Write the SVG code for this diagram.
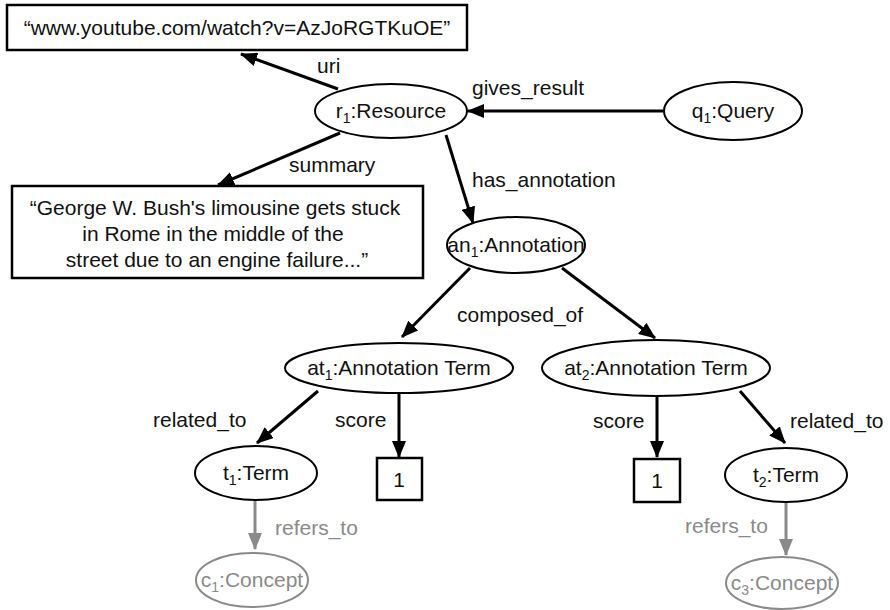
<svg xmlns="http://www.w3.org/2000/svg" width="890" height="610" viewBox="0 0 890 610">
  <style>
    text { font-family: "Liberation Sans", Arial, sans-serif; font-size: 21px; fill: #111; }
    .mid { text-anchor: middle; }
    .sub { font-size: 14px; }
    .node { fill: #fff; stroke: #000; stroke-width: 2; }
    .lit { fill: #fff; stroke: #000; stroke-width: 2.5; }
    .gnode { fill: #fff; stroke: #8a8a8a; stroke-width: 2; }
    .edge { fill: none; stroke: #000; stroke-width: 3; marker-end: url(#arr); }
    .gedge { fill: none; stroke: #8a8a8a; stroke-width: 3; marker-end: url(#garr); }
    .glabel { fill: #8a8a8a; }
  </style>
  <defs>
    <marker id="arr" markerUnits="userSpaceOnUse" markerWidth="17" markerHeight="14" refX="16" refY="7" orient="auto">
      <path d="M0,0 L17,7 L0,14 z" fill="#000"/>
    </marker>
    <marker id="garr" markerUnits="userSpaceOnUse" markerWidth="17" markerHeight="14" refX="16" refY="7" orient="auto">
      <path d="M0,0 L17,7 L0,14 z" fill="#8a8a8a"/>
    </marker>
  </defs>
  <rect width="890" height="610" fill="#fff"/>

  <!-- connectors -->
  <g id="connectors">
    <line class="edge" x1="338" y1="89" x2="241" y2="54"/>
    <line class="edge" x1="663" y1="111" x2="468" y2="111"/>
    <line class="edge" x1="340" y1="133" x2="218" y2="185"/>
    <line class="edge" x1="446" y1="135" x2="473" y2="223"/>
    <line class="edge" x1="470" y1="268" x2="402" y2="337"/>
    <line class="edge" x1="562" y1="268" x2="655" y2="338"/>
    <line class="edge" x1="318" y1="391" x2="257" y2="443"/>
    <line class="edge" x1="399" y1="393" x2="399" y2="457"/>
    <line class="edge" x1="657" y1="396" x2="657" y2="457"/>
    <line class="edge" x1="740" y1="391" x2="785" y2="443"/>
    <line class="gedge" x1="255" y1="500" x2="255" y2="549"/>
    <line class="gedge" x1="786" y1="502" x2="786" y2="555"/>

    <text x="317" y="73">uri</text>
    <text x="472" y="95">gives_result</text>
    <text x="289" y="172">summary</text>
    <text x="472" y="187">has_annotation</text>
    <text x="457" y="322">composed_of</text>
    <text x="153" y="427">related_to</text>
    <text x="335" y="427">score</text>
    <text x="593" y="428">score</text>
    <text x="790" y="428">related_to</text>
    <text class="glabel" x="275" y="535">refers_to</text>
    <text class="glabel" x="685" y="533">refers_to</text>
  </g>

  <g id="uri-literal">
    <rect class="lit" x="7" y="5" width="460" height="45"/>
    <text class="mid" x="237" y="35">“www.youtube.com/watch?v=AzJoRGTKuOE”</text>
  </g>

  <g id="summary-literal">
    <rect class="lit" x="12" y="186" width="411" height="92"/>
    <text class="mid" x="215" y="215">“George W. Bush's limousine gets stuck</text>
    <text class="mid" x="213" y="241">in Rome in the middle of the</text>
    <text class="mid" x="217" y="267">street due to an engine failure...”</text>
  </g>

  <g id="r1">
    <ellipse class="node" cx="391" cy="111" rx="76" ry="27"/>
    <text class="mid" x="391" y="118">r<tspan class="sub" dy="5">1</tspan><tspan dy="-5">:Resource</tspan></text>
  </g>

  <g id="q1">
    <ellipse class="node" cx="733" cy="111" rx="69" ry="29"/>
    <text class="mid" x="733" y="118">q<tspan class="sub" dy="5">1</tspan><tspan dy="-5">:Query</tspan></text>
  </g>

  <g id="an1">
    <ellipse class="node" cx="516" cy="245" rx="69" ry="28"/>
    <text class="mid" x="516" y="252">an<tspan class="sub" dy="5">1</tspan><tspan dy="-5">:Annotation</tspan></text>
  </g>

  <g id="at1">
    <ellipse class="node" cx="399" cy="368" rx="114" ry="25"/>
    <text class="mid" x="399" y="375">at<tspan class="sub" dy="5">1</tspan><tspan dy="-5">:Annotation Term</tspan></text>
  </g>

  <g id="at2">
    <ellipse class="node" cx="656" cy="368" rx="114" ry="28"/>
    <text class="mid" x="656" y="375">at<tspan class="sub" dy="5">2</tspan><tspan dy="-5">:Annotation Term</tspan></text>
  </g>

  <g id="t1">
    <ellipse class="node" cx="256" cy="473" rx="61" ry="27"/>
    <text class="mid" x="256" y="480">t<tspan class="sub" dy="5">1</tspan><tspan dy="-5">:Term</tspan></text>
  </g>

  <g id="t2">
    <ellipse class="node" cx="786" cy="475" rx="61" ry="27"/>
    <text class="mid" x="786" y="482">t<tspan class="sub" dy="5">2</tspan><tspan dy="-5">:Term</tspan></text>
  </g>

  <g id="score1">
    <rect class="lit" x="377" y="458" width="45" height="42"/>
    <text class="mid" x="399" y="487">1</text>
  </g>

  <g id="score2">
    <rect class="lit" x="634" y="459" width="46" height="43"/>
    <text class="mid" x="657" y="488">1</text>
  </g>

  <g id="c1">
    <ellipse class="gnode" cx="252" cy="580" rx="56" ry="27"/>
    <text class="mid glabel" x="252" y="587">c<tspan class="sub" dy="5">1</tspan><tspan dy="-5">:Concept</tspan></text>
  </g>

  <g id="c3">
    <ellipse class="gnode" cx="782" cy="583" rx="56" ry="26"/>
    <text class="mid glabel" x="782" y="590">c<tspan class="sub" dy="5">3</tspan><tspan dy="-5">:Concept</tspan></text>
  </g>
</svg>
